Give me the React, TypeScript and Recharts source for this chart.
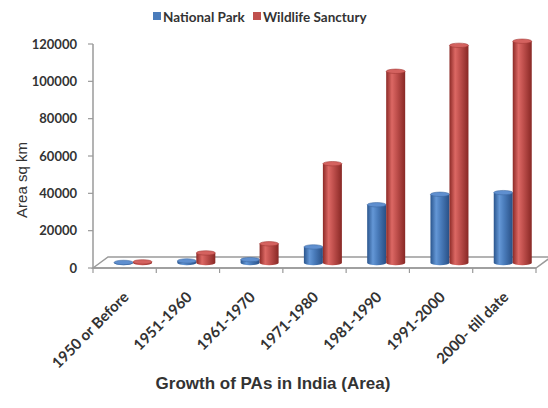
import React from 'react';
import * as Recharts from 'recharts';

const { BarChart, Bar, XAxis, YAxis } = Recharts;

// Period buckets on the category axis
const periods = [
  '1950 or Before',
  '1951-1960',
  '1961-1970',
  '1971-1980',
  '1981-1990',
  '1991-2000',
  '2000- till date',
];

// Cumulative protected area in sq km
const nationalPark = [300, 1100, 1800, 8600, 31200, 36800, 37700];
const wildlifeSanctuary = [600, 5400, 10300, 53200, 102700, 116600, 118800];

const yTicks = [0, 20000, 40000, 60000, 80000, 100000, 120000];

const seriesNames = ['National Park', 'Wildlife Sanctury'];

const data = periods.map((p, i) => ({
  period: p,
  np: nationalPark[i],
  ws: wildlifeSanctuary[i],
}));

const W = 548;
const H = 408;

// 3D floor depth and the cylinder offset into the middle of it
const FLOOR_DX = 15;
const FLOOR_DY = 11;
const BAR_DX = 8;
const BAR_DY = 5;

const AXIS_GREY = '#9a9a9a';
const TEXT = '#333333';

const usePlot: () => any =
  (Recharts as any).usePlotArea || (() => undefined);

function Floor() {
  const area = usePlot();
  const x0 = area?.x ?? 93;
  const top = area?.y ?? 44;
  const w = area?.width ?? 443;
  const h = area?.height ?? 224;
  const yb = top + h;
  const x1 = x0 + w;
  const n = periods.length;
  const step = w / n;
  const ticks = [];
  for (let i = 0; i <= n; i++) {
    const tx = x0 + i * step;
    ticks.push(
      <line key={i} x1={tx} y1={yb} x2={tx} y2={yb + 5} stroke={AXIS_GREY} strokeWidth={1.2} />
    );
  }
  return (
    <g>
      <polygon
        points={`${x0},${yb} ${x0 + FLOOR_DX},${yb - FLOOR_DY} ${x1 + FLOOR_DX},${yb - FLOOR_DY} ${x1},${yb}`}
        fill="#ffffff"
        stroke={AXIS_GREY}
        strokeWidth={1.5}
      />
      {ticks}
    </g>
  );
}

function makeCylinder(grad: string, topFill: string, edge: string) {
  return (props: any) => {
    const { x, y, width, height } = props;
    if (x == null || y == null) return <g />;
    const bx = x + BAR_DX;
    const rx = width / 2;
    const ry = 2.2;
    const yTop = y - BAR_DY;
    const yBot = y + Math.max(height, 0) - BAR_DY;
    const d = `M${bx},${yTop} L${bx},${yBot} A${rx},${ry} 0 0 0 ${bx + width},${yBot} L${bx + width},${yTop} Z`;
    return (
      <g>
        <path d={d} fill={`url(#${grad})`} />
        <ellipse cx={bx + rx} cy={yTop} rx={rx} ry={ry} fill={topFill} stroke={edge} strokeWidth={0.6} />
      </g>
    );
  };
}

const BlueCylinder = makeCylinder('cylBlue', '#5f8fcf', '#3e6aa3');
const RedCylinder = makeCylinder('cylRed', '#d4625f', '#a43b38');

function CategoryTick(props: any) {
  const { x, y, payload } = props;
  const ax = x + 5;
  const ay = y + 30;
  return (
    <text
      x={ax}
      y={ay}
      transform={`rotate(-45 ${ax} ${ay})`}
      textAnchor="end"
      fontFamily="Lato"
      fontWeight={700}
      fontSize={15}
      fill={TEXT}
    >
      {payload.value}
    </text>
  );
}

export default function App() {
  return (
    <div style={{ position: 'absolute', left: 0, top: 0, width: W, height: H, background: '#fff' }}>
      <svg width={0} height={0} style={{ position: 'absolute' }}>
        <defs>
          <linearGradient id="cylBlue" x1="0" y1="0" x2="1" y2="0">
            <stop offset="0%" stopColor="#2a558d" />
            <stop offset="30%" stopColor="#6497d6" />
            <stop offset="55%" stopColor="#4a7cbb" />
            <stop offset="100%" stopColor="#284f85" />
          </linearGradient>
          <linearGradient id="cylRed" x1="0" y1="0" x2="1" y2="0">
            <stop offset="0%" stopColor="#8c2a27" />
            <stop offset="30%" stopColor="#dc6864" />
            <stop offset="55%" stopColor="#c0504d" />
            <stop offset="100%" stopColor="#882825" />
          </linearGradient>
        </defs>
      </svg>
      <BarChart
        width={W}
        height={H}
        data={data}
        margin={{ top: 44, right: 12, bottom: 0, left: 0 }}
        barCategoryGap="20.6%"
        barGap={0}
      >
        <Floor />
        <XAxis
          dataKey="period"
          height={140}
          interval={0}
          axisLine={{ stroke: AXIS_GREY, strokeWidth: 1.5 }}
          tickLine={false}
          tickSize={0}
          tickMargin={0}
          tick={<CategoryTick />}
        />
        <YAxis
          width={93}
          domain={[0, 120000]}
          ticks={yTicks}
          interval={0}
          axisLine={{ stroke: AXIS_GREY, strokeWidth: 1.5 }}
          tickLine={{ stroke: AXIS_GREY, strokeWidth: 1.2 }}
          tickSize={5}
          tickMargin={11}
          tick={{ fontFamily: 'Lato', fontWeight: 700, fontSize: 13, fill: TEXT }}
        />
        <Bar dataKey="np" name={seriesNames[0]} isAnimationActive={false} shape={BlueCylinder} />
        <Bar dataKey="ws" name={seriesNames[1]} isAnimationActive={false} shape={RedCylinder} />
      </BarChart>
      <svg
        width={W}
        height={H}
        style={{ position: 'absolute', left: 0, top: 0, pointerEvents: 'none' }}
      >
        <rect x={153} y={12} width={8} height={8} fill="#4a7cbb" />
        <text x={163} y={22} fontFamily="Lato" fontWeight={700} fontSize={13.5} fill={TEXT}>
          {seriesNames[0]}
        </text>
        <rect x={253} y={12} width={8} height={8} fill="#c0504d" />
        <text x={263} y={22} fontFamily="Lato" fontWeight={700} fontSize={13.5} fill={TEXT}>
          {seriesNames[1]}
        </text>
        <text
          x={21}
          y={180}
          transform="rotate(-90 21 180)"
          textAnchor="middle"
          dominantBaseline="central"
          fontFamily="Liberation Sans"
          fontSize={15}
          fill={TEXT}
        >
          Area sq km
        </text>
        <text
          x={273}
          y={389}
          textAnchor="middle"
          fontFamily="Liberation Sans"
          fontWeight={700}
          fontSize={17}
          fill={TEXT}
        >
          Growth of PAs in India (Area)
        </text>
      </svg>
    </div>
  );
}
